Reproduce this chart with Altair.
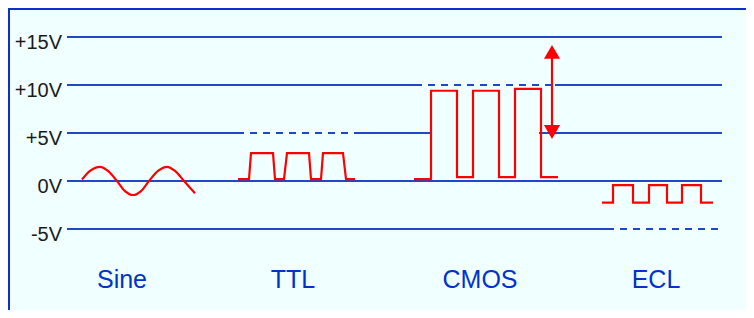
import altair as alt
import pandas as pd

# Voltage reference levels and their labels
LEVELS = [15, 10, 5, 0, -5]
LEVEL_LABELS = ["+15V", "+10V", "+5V", "0V", "-5V"]

# Reference line segments (level, start, end, style)
SEG_LEVEL = [15, 10, 10, 10, 5, 5, 5, 5, 0, -5, -5]
SEG_START = [67, 67, 415, 555, 67, 237, 360, 539, 67, 67, 607]
SEG_END = [722, 415, 555, 722, 237, 360, 431, 722, 722, 607, 722]
SEG_STYLE = ["solid", "solid", "dashed", "solid", "solid", "dashed",
             "solid", "solid", "solid", "solid", "dashed"]

# Signals (time, volts)
SINE_T = [82, 90, 100, 108, 117, 125, 133, 141, 149, 158, 167, 175, 184, 195]
SINE_V = [0.15, 1.05, 1.48, 1.05, 0.0, -1.05, -1.46, -1.05, 0.0, 1.05, 1.48, 1.05, 0.0, -1.28]

TTL_T = [238, 249, 251, 273, 275, 284, 287, 309, 311, 321, 323, 343, 346, 355]
TTL_V = [0.2, 0.2, 2.9, 2.9, 0.2, 0.2, 2.9, 2.9, 0.2, 0.2, 2.9, 2.9, 0.2, 0.2]

CMOS_T = [414, 431, 431, 457, 457, 473, 473, 499, 499, 515, 515, 541, 541, 558]
CMOS_V = [0.2, 0.2, 9.4, 9.4, 0.4, 0.4, 9.4, 9.4, 0.4, 0.4, 9.6, 9.6, 0.4, 0.4]

ECL_T = [602, 613, 613, 633, 633, 649, 649, 667, 667, 682, 682, 701, 701, 713]
ECL_V = [-2.26, -2.26, -0.42, -0.42, -2.26, -2.26, -0.42, -0.42, -2.26, -2.26,
         -0.42, -0.42, -2.26, -2.26]

# Family labels
FAMILIES = ["Sine", "TTL", "CMOS", "ECL"]
FAMILY_T = [122, 293, 480, 656]

# Swing arrow (CMOS)
ARROW_T = [552]
ARROW_TOP = [13.45]
ARROW_BOTTOM = [5.1]

W, H = 738, 302
BLUE = "#1d47cc"
RED = "#ff0000"

xs = alt.Scale(domain=[8, 746], nice=False, zero=False)
ys = alt.Scale(domain=[-13.4375, 18.0208], nice=False, zero=False)

seg = pd.DataFrame({"v": SEG_LEVEL, "t": SEG_START, "t2": SEG_END, "style": SEG_STYLE})
lab = pd.DataFrame({"v": LEVELS, "label": LEVEL_LABELS, "t": [62] * len(LEVELS)})

rows = []
for name, T, V in [("TTL", TTL_T, TTL_V), ("CMOS", CMOS_T, CMOS_V), ("ECL", ECL_T, ECL_V)]:
    for i, (t, v) in enumerate(zip(T, V)):
        rows.append({"sig": name, "i": i, "t": t, "v": v})
sq = pd.DataFrame(rows)
sine = pd.DataFrame({"t": SINE_T, "v": SINE_V, "i": range(len(SINE_T))})
fam = pd.DataFrame({"name": FAMILIES, "t": FAMILY_T, "v": [-11.18] * 4})
arrow = pd.DataFrame({"t": ARROW_T, "top": ARROW_TOP, "bot": ARROW_BOTTOM})

X = lambda f="t": alt.X(f"{f}:Q", scale=xs, axis=None)
Y = lambda f="v": alt.Y(f"{f}:Q", scale=ys, axis=None)

solid = alt.Chart(seg).transform_filter("datum.style == 'solid'").mark_rule(
    color=BLUE, strokeWidth=2).encode(x=X(), x2="t2:Q", y=Y())
dashed = alt.Chart(seg).transform_filter("datum.style == 'dashed'").mark_rule(
    color=BLUE, strokeWidth=2, strokeDash=[7, 6]).encode(x=X(), x2="t2:Q", y=Y())

labels = alt.Chart(lab).mark_text(
    align="right", baseline="alphabetic", dy=12, fontSize=20,
    font="Liberation Sans", color="#1a1a1a").encode(x=X(), y=Y(), text="label:N")

sqlines = alt.Chart(sq).mark_line(color=RED, strokeWidth=2.2).encode(
    x=X(), y=Y(), detail="sig:N", order="i:Q")
sineline = alt.Chart(sine).mark_line(color=RED, strokeWidth=2.2, interpolate="monotone").encode(
    x=X(), y=Y(), order="i:Q")

famtext = alt.Chart(fam).mark_text(
    align="center", baseline="alphabetic", fontSize=25,
    font="Liberation Sans", color="#0033cc").encode(x=X(), y=Y(), text="name:N")

arrow_rule = alt.Chart(arrow).mark_rule(color=RED, strokeWidth=2.2).encode(
    x=X(), y=Y("top"), y2="bot:Q")
arrow_up = alt.Chart(arrow).mark_point(
    shape="triangle-up", filled=True, size=260, color=RED, opacity=1).encode(x=X(), y=Y("top"))
arrow_down = alt.Chart(arrow).mark_point(
    shape="triangle-down", filled=True, size=260, color=RED, opacity=1).encode(x=X(), y=Y("bot"))

left_border = alt.Chart(sine).mark_rule(color="#0b2fd0", strokeWidth=2).encode(
    x=alt.value(1), y=alt.value(0), y2=alt.value(H))
top_border = alt.Chart(sine).mark_rule(color="#0b2fd0", strokeWidth=2).encode(
    x=alt.value(0), x2=alt.value(W), y=alt.value(1))

chart = alt.layer(
    solid, dashed, labels, sineline, sqlines, famtext,
    arrow_rule, arrow_up, arrow_down, left_border, top_border
).properties(
    width=W, height=H, autosize=alt.AutoSizeParams(type="none"), padding=0,
    background="#f0ffff"
).configure_view(stroke=None)

chart.save("out.html", embed_options={"renderer": "svg", "actions": False})
